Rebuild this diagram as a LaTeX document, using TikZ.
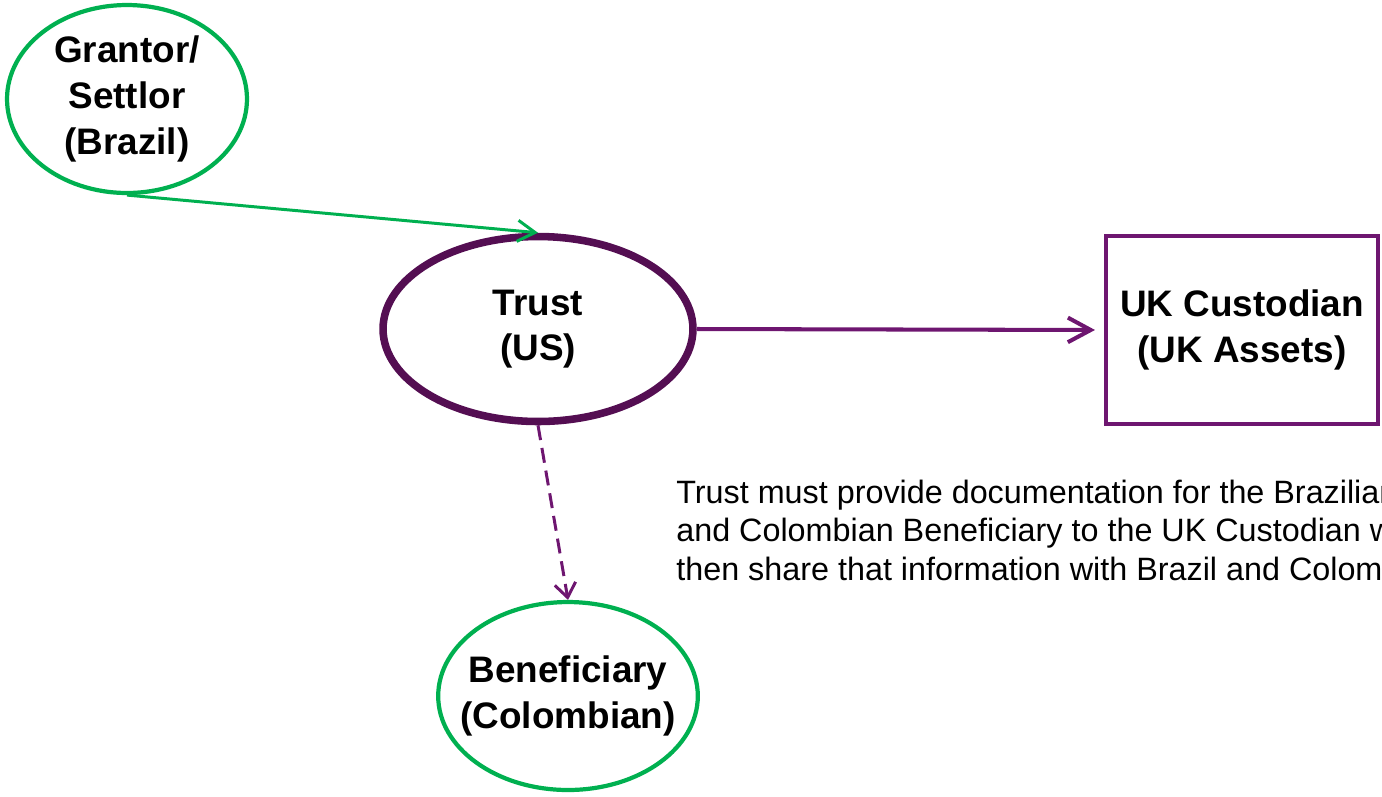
\documentclass[tikz,border=0pt]{standalone}
\usepackage{fontspec}
\setmainfont{Liberation Sans}
\usetikzlibrary{shapes.geometric, arrows.meta}

\definecolor{partygreen}{RGB}{0,176,80}
\definecolor{trustpurple}{RGB}{84,14,82}
\definecolor{flowpurple}{RGB}{110,22,112}

\begin{document}
\begin{tikzpicture}[x=0.02cm, y=-0.02cm,
    party/.style={draw=partygreen, line width=2.4pt, ellipse, align=center,
                  inner xsep=-9pt, inner ysep=-4pt,
                  font=\fontsize{21}{26}\selectfont\bfseries},
    trustnode/.style={draw=trustpurple, line width=4.3pt, ellipse, align=center,
                  inner sep=0pt, font=\fontsize{21}{26}\selectfont\bfseries},
    custodian/.style={draw=flowpurple, line width=2.6pt, rectangle, align=center,
                  inner sep=0pt, font=\fontsize{21}{26}\selectfont\bfseries},
    note/.style={align=left, inner sep=0pt, font=\fontsize{18.4}{21.8}\selectfont}
]
    \useasboundingbox (0,0) rectangle (1382,796);
    \clip (0,0) rectangle (1382,796);

    % ========== Parties ==========
    \node[party, minimum width=4.8cm, minimum height=3.76cm]
        (grantor) at (127,99) {Grantor/\\Settlor\\(Brazil)};
    \node[trustnode, minimum width=6.2cm, minimum height=3.7cm]
        (trust) at (538,329) {Trust\\(US)};
    \node[custodian, minimum width=5.44cm, minimum height=3.76cm]
        (cust) at (1242,330) {UK Custodian\\(UK Assets)};
    \node[party, minimum width=5.06cm, minimum height=3.76cm]
        (benef) at (568,696) {Beneficiary\\(Colombian)};

    % ========== Note ==========
    \node[note, anchor=base west] (note) at (676,580) {%
        Trust must provide documentation for the Brazilian\\
        and Colombian Beneficiary to the UK Custodian who\\
        then share that information with Brazil and Colombia};

    % --- Flows ---
    % grantor settles the trust
    \draw[partygreen, line width=1.7pt, -{Straight Barb[length=10pt, width=12pt]}]
        (grantor.south) -- (trust.north);

    % trust holds assets with the custodian
    \draw[flowpurple, line width=2.3pt, -{Straight Barb[length=13pt, width=14pt]},
          shorten >=5pt]
        (trust.east) -- (cust.west);

    % distributions to the beneficiary
    \draw[flowpurple, line width=1.7pt, dash pattern=on 0.3cm off 0.16cm,
          -{Straight Barb[length=8pt, width=12pt]}]
        (trust.south) -- (benef.north);
\end{tikzpicture}
\end{document}
